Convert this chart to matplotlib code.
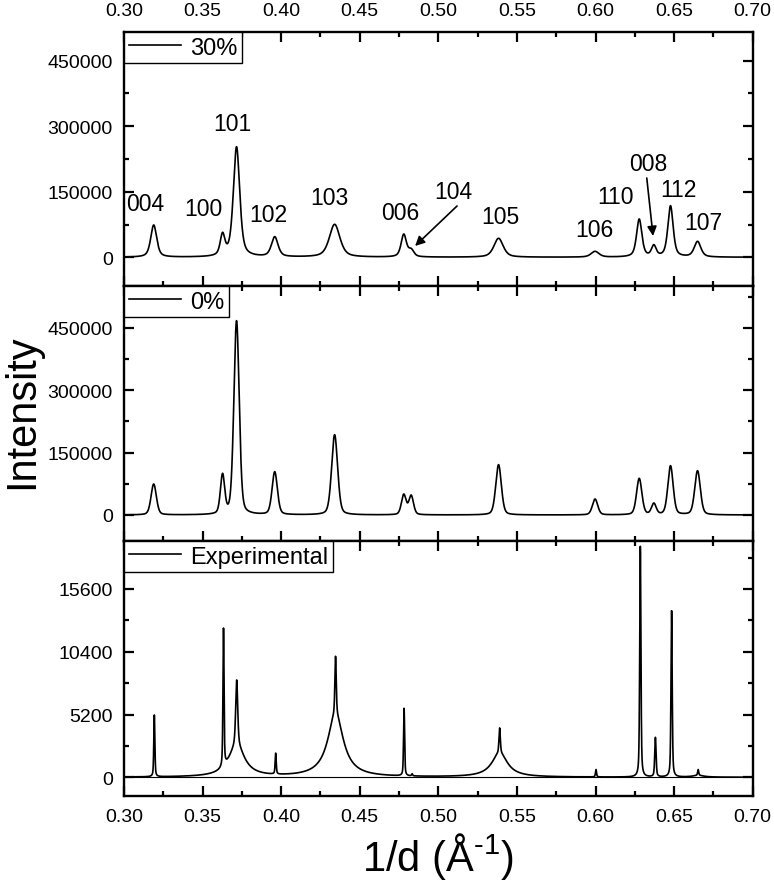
import numpy as np
import matplotlib
matplotlib.use("Agg")
import matplotlib.pyplot as plt
from matplotlib.ticker import MultipleLocator

plt.rcParams['font.family'] = ['Liberation Sans', 'DejaVu Sans']
plt.rcParams['mathtext.fontset'] = 'custom'
plt.rcParams['mathtext.rm'] = 'Liberation Sans'
plt.rcParams['mathtext.it'] = 'Liberation Sans:italic'
plt.rcParams['mathtext.default'] = 'regular'

# ---------------- data ----------------
reflections = ['004', '100', '101', '102', '103', '006', '104', '105', '106', '110', '008', '112', '107']
pos_sim = [0.3189, 0.3627, 0.3716, 0.3959, 0.4340, 0.4780, 0.4827, 0.5383, 0.5997, 0.6278, 0.6371, 0.6477, 0.6649]

# 30 % simulated pattern: peak heights and widths
peak_30 = [74000, 57200, 253200, 47300, 75500, 53400, 20600, 43500, 13700, 87700, 29000, 118200, 36600]
fwhm_30 = [0.0045, 0.0035, 0.0048, 0.0050, 0.0080, 0.0040, 0.0040, 0.0070, 0.0060, 0.0040, 0.0035, 0.0040, 0.0050]

# 0 % simulated pattern
peak_0 = [74600, 100300, 467600, 104300, 193300, 50500, 48100, 121100, 38500, 88200, 28900, 118700, 106700]
fwhm_0 = [0.0040, 0.0032, 0.0040, 0.0040, 0.0045, 0.0035, 0.0035, 0.0042, 0.0040, 0.0040, 0.0035, 0.0040, 0.0042]

# experimental pattern: sharp peaks + broad components
pos_exp = [0.3193, 0.3633, 0.3717, 0.3965, 0.4346, 0.4782, 0.4833, 0.5390, 0.6003, 0.6285, 0.6381, 0.6484, 0.6653]
peak_exp = [5160, 12360, 8060, 2000, 10020, 5720, 300, 4090, 640, 19130, 3310, 13800, 640]
fwhm_exp = [0.0008, 0.0008, 0.0015, 0.0008, 0.0010, 0.0008, 0.0008, 0.0010, 0.0008, 0.0009, 0.0010, 0.0009, 0.0008]
broad_pos = [0.3717, 0.4346, 0.5390, 0.6653]
broad_amp = [2600, 5200, 2000, 150]
broad_fwhm = [0.012, 0.012, 0.012, 0.008]

# annotation label positions (top panel)
label_x = [0.3134, 0.3503, 0.3687, 0.3916, 0.4308, 0.4756, 0.5093, 0.5392, 0.5990, 0.6130, 0.6334, 0.6525, 0.6684]
label_y = [124000, 110500, 305000, 96800, 135700, 103600, 149400, 92200, 64700, 138000, 213500, 154000, 78500]
arrow_tail = {'104': (0.5119, 117400), '008': (0.6326, 181400)}
arrow_tip = {'104': (0.4852, 25900), '008': (0.6366, 48700)}

x_ticks = [0.30, 0.35, 0.40, 0.45, 0.50, 0.55, 0.60, 0.65, 0.70]
y_ticks_sim = [0, 150000, 300000, 450000]
y_ticks_exp = [0, 5200, 10400, 15600]


def pv(x, x0, w, eta):
    d = (np.asarray(x) - x0) / w
    return eta / (1 + 4 * d ** 2) + (1 - eta) * np.exp(-4 * np.log(2) * d ** 2)


def pattern(x, pos, heights, widths, eta, bg=None):
    pos = np.array(pos); heights = np.array(heights, float); widths = np.array(widths)
    base = np.zeros_like(pos) if bg is None else bg(pos)
    M = np.array([[pv(pi, pj, wj, eta) for pj, wj in zip(pos, widths)] for pi in pos])
    amps = np.linalg.solve(M, heights - base)
    y = np.zeros_like(x) if bg is None else bg(x)
    for p, a, w in zip(pos, amps, widths):
        y = y + a * pv(x, p, w, eta)
    return y


def broad(x):
    y = np.zeros_like(np.asarray(x, float))
    for p, a, w in zip(broad_pos, broad_amp, broad_fwhm):
        y = y + a * pv(x, p, w, 1.0)
    return y


x = np.linspace(0.30, 0.70, 16001)
y30 = pattern(x, pos_sim, peak_30, fwhm_30, 0.55)
y0 = pattern(x, pos_sim, peak_0, fwhm_0, 0.3)
yexp = pattern(x, pos_exp, peak_exp, fwhm_exp, 0.5, bg=broad)

# ---------------- figure ----------------
W, H = 774, 887
fig = plt.figure(figsize=(W / 100, H / 100), dpi=100)
left = 124 / W
width = (752.7 - 124) / W


def make_ax(top_px, bot_px):
    return fig.add_axes([left, 1 - bot_px / H, width, (bot_px - top_px) / H])


ax1 = make_ax(33, 287)
ax2 = make_ax(287, 542)
ax3 = make_ax(542, 797)

lw = 1.2
ax1.plot(x, y30, color='black', lw=lw, label='30%')
ax2.plot(x, y0, color='black', lw=lw, label='0%')
ax3.axhline(0, color='black', lw=0.8)
ax3.plot(x, yexp, color='black', lw=lw, label='Experimental')

ax1.set_ylim(-65700, 515500)
ax2.set_ylim(-62600, 551000)
ax3.set_ylim(-1550, 19570)

for ax in (ax1, ax2, ax3):
    ax.set_xlim(0.30, 0.70)
    ax.set_xticks(x_ticks)
    ax.xaxis.set_minor_locator(MultipleLocator(0.025))
    for s in ax.spines.values():
        s.set_linewidth(1.7)
    ax.tick_params(which='both', direction='in', top=True, right=True, width=1.6,
                   labelsize=14, pad=8)
    ax.tick_params(which='major', length=7)
    ax.tick_params(which='minor', length=3.5)
    ax.tick_params(axis='x', labelbottom=False, labeltop=False)
    leg = ax.legend(loc='upper left', borderaxespad=0, fancybox=False, framealpha=1,
                    edgecolor='black', fontsize=17, handlelength=2.2, handletextpad=0.4,
                    borderpad=0.2)
    leg.get_frame().set_linewidth(1.0)

for ax in (ax1, ax2):
    ax.set_yticks(y_ticks_sim)
    ax.yaxis.set_minor_locator(MultipleLocator(75000))
ax3.set_yticks(y_ticks_exp)
ax3.yaxis.set_minor_locator(MultipleLocator(2600))

ax1.tick_params(axis='x', labeltop=True, pad=9)
ax3.tick_params(axis='x', labelbottom=True, pad=9)
ax1.set_xticklabels([f'{v:.2f}' for v in x_ticks])
ax3.set_xticklabels([f'{v:.2f}' for v in x_ticks])

for name, lx, ly in zip(reflections, label_x, label_y):
    ax1.text(lx, ly, name, ha='center', va='center', fontsize=16.5)
for key in arrow_tail:
    ax1.annotate('', xy=arrow_tip[key], xytext=arrow_tail[key],
                 arrowprops=dict(arrowstyle='-|>', color='black', lw=1.2,
                                 mutation_scale=14, shrinkA=0, shrinkB=0))

fig.text(22 / W, 1 - 411.5 / H, 'Intensity', rotation=90, ha='center', va='center', fontsize=30)
fig.text(438 / W, 1 - 857 / H, r'1/d (Å$^{\text{-}1}$)', ha='center', va='center', fontsize=30)

fig.savefig('out.png', dpi=100)
